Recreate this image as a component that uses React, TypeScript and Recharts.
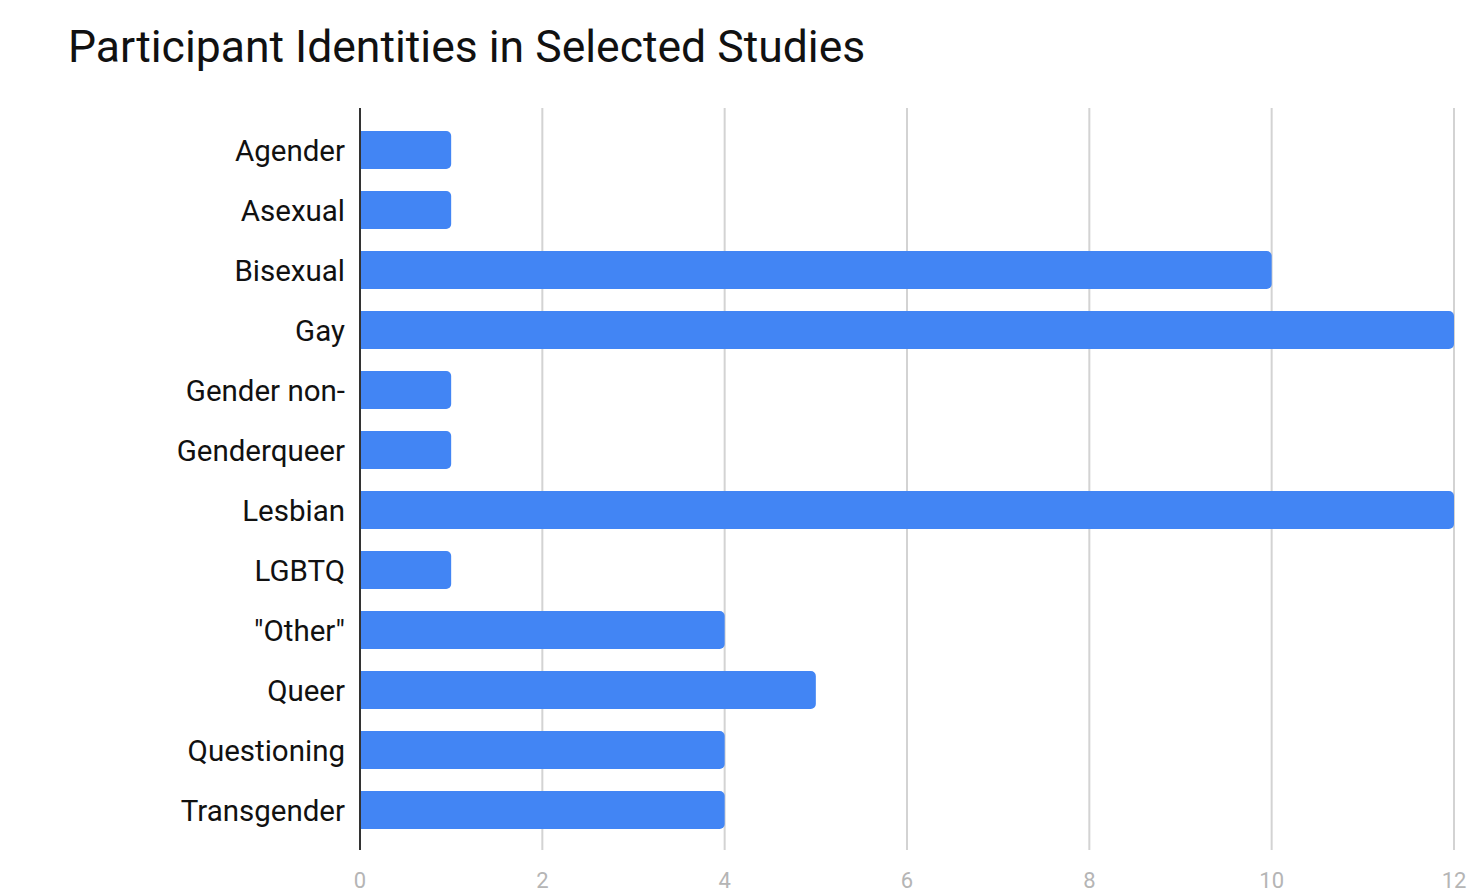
import React from 'react'
import { BarChart, Bar, XAxis, YAxis, CartesianGrid } from 'recharts'

const identities = [
  'Agender',
  'Asexual',
  'Bisexual',
  'Gay',
  'Gender non-',
  'Genderqueer',
  'Lesbian',
  'LGBTQ',
  '"Other"',
  'Queer',
  'Questioning',
  'Transgender',
]
const studyCounts = [1, 1, 10, 12, 1, 1, 12, 1, 4, 5, 4, 4]
const xTicks = [0, 2, 4, 6, 8, 10, 12]

const data = identities.map((name, i) => ({ name, value: studyCounts[i] }))

const FONT = 'Roboto, "Noto Sans", sans-serif'

const App = () => {
  return (
    <div style={{ position: 'absolute', left: 0, top: 0, width: 1481, height: 894, background: '#fff', fontFamily: FONT }}>
      <div
        style={{
          position: 'absolute',
          left: 68,
          top: 21,
          fontSize: 44.5,
          lineHeight: 1.2,
          color: '#111',
          whiteSpace: 'nowrap',
        }}
      >
        Participant Identities in Selected Studies
      </div>
      <BarChart
        width={1481}
        height={894}
        data={data}
        layout="vertical"
        margin={{ top: 108, right: 27, bottom: 0, left: 0 }}
        barSize={38}
      >
        <CartesianGrid horizontal={false} stroke="#d3d3d3" strokeWidth={2} />
        <XAxis
          type="number"
          domain={[0, 12]}
          ticks={xTicks}
          height={44}
          axisLine={false}
          tickLine={false}
          tickMargin={16}
          tick={{ fill: '#b5b5b5', fontSize: 22, fontFamily: FONT }}
        />
        <YAxis
          type="category"
          dataKey="name"
          width={360}
          padding={{ top: 12, bottom: 10 }}
          axisLine={{ stroke: '#333', strokeWidth: 2 }}
          tickLine={false}
          tickSize={6}
          tickMargin={9}
          interval={0}
          tick={{ fill: '#111', fontSize: 29.5, fontFamily: FONT, dy: 1 }}
        />
        <Bar dataKey="value" fill="#4285f4" radius={[0, 5, 5, 0]} isAnimationActive={false} />
      </BarChart>
    </div>
  )
}

export default App
